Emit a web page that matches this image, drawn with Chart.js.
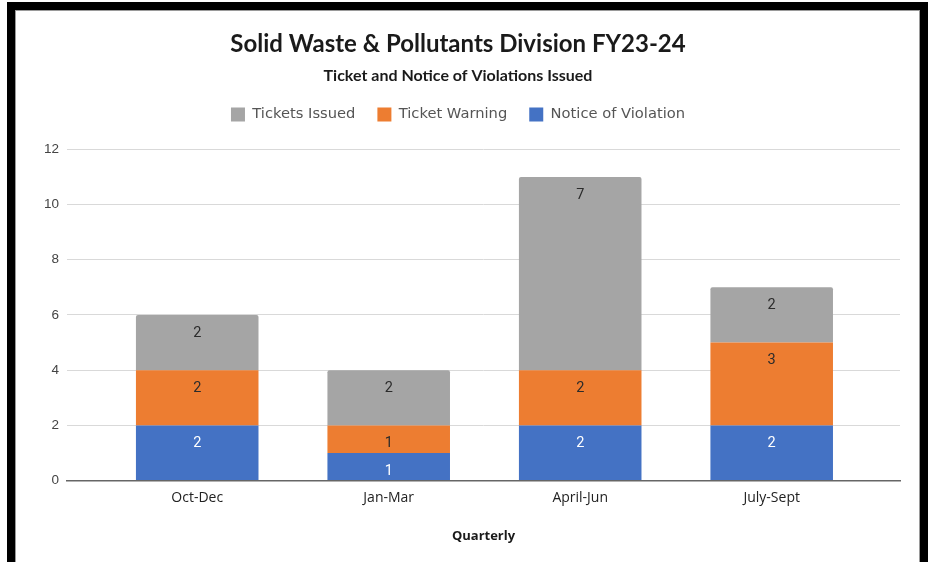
<!DOCTYPE html>
<html>
<head>
<meta charset="utf-8">
<script src="https://cdn.jsdelivr.net/npm/chart.js@4/dist/chart.umd.min.js"></script>
<style>
  html, body { margin: 0; padding: 0; background: #fff; overflow: hidden; width: 931px; height: 562px; }
  #frame { position: absolute; left: 7px; top: 2px; width: 921px; height: 600px; background: #000; }
  #inner { position: absolute; left: 15px; top: 10px; width: 903px; height: 600px; border: 1px solid #9a9a9a; border-bottom: none; background: #fff; }
  canvas { display: block; }
</style>
</head>
<body>
<div id="frame"></div>
<div id="inner"><canvas id="c" width="903" height="552"></canvas></div>
<script>
// ---- Data ----
const quarters = ['Oct-Dec', 'Jan-Mar', 'April-Jun', 'July-Sept'];
const noticeOfViolation = [2, 1, 2, 2];
const ticketWarning = [2, 1, 2, 3];
const ticketsIssued = [2, 2, 7, 2];
const yTickValues = [0, 2, 4, 6, 8, 10, 12];
const chartTitle = 'Solid Waste & Pollutants Division FY23-24';
const chartSubtitle = 'Ticket and Notice of Violations Issued';
const xAxisTitle = 'Quarterly';

const toPoints = arr => arr.map((v, i) => ({ x: i, y: v }));

const labelPlugin = {
  id: 'segLabels',
  afterDatasetsDraw(chart) {
    const ctx = chart.ctx;
    ctx.save();
    ctx.font = '14.5px Roboto, "Liberation Sans", sans-serif';
    ctx.textAlign = 'center';
    ctx.textBaseline = 'middle';
    chart.data.datasets.forEach((ds, di) => {
      const meta = chart.getDatasetMeta(di);
      meta.data.forEach((el, i) => {
        const v = ds.data[i].y;
        ctx.fillStyle = ds.labelColor;
        ctx.fillText(String(v), el.x, el.y + 18);
      });
    });
    ctx.restore();
  }
};

// extra space under the legend, before the plot area
const legendGapPlugin = {
  id: 'legendGap',
  beforeLayout(chart) {
    const lg = chart.legend;
    if (lg && !lg._gapPatched) {
      const orig = lg.fit.bind(lg);
      lg.fit = function () { orig(); this.height += 17.5; };
      lg._gapPatched = true;
    }
  }
};

new Chart(document.getElementById('c'), {
  type: 'bar',
  data: {
    datasets: [
      { label: 'Notice of Violation', data: toPoints(noticeOfViolation), backgroundColor: '#4472c4', labelColor: '#ffffff', borderWidth: 0 },
      { label: 'Ticket Warning', data: toPoints(ticketWarning), backgroundColor: '#ed7d31', labelColor: '#2b2b2b', borderWidth: 0 },
      { label: 'Tickets Issued', data: toPoints(ticketsIssued), backgroundColor: '#a5a5a5', labelColor: '#2b2b2b', borderWidth: 0,
        borderRadius: { topLeft: 2, topRight: 2, bottomLeft: 0, bottomRight: 0 }, borderSkipped: false }
    ]
  },
  options: {
    responsive: false,
    animation: false,
    devicePixelRatio: 1,
    categoryPercentage: 0.8,
    barPercentage: 0.8,
    layout: { padding: { top: 0, right: 19, left: 0, bottom: 0 } },
    plugins: {
      tooltip: { enabled: false },
      title: {
        display: true, text: chartTitle, color: '#1a1a1a',
        font: { family: 'Lato, "Open Sans", sans-serif', size: 24, weight: 'bold' },
        padding: { top: 18.6, bottom: 7.5 }
      },
      subtitle: {
        display: true, text: chartSubtitle, color: '#1a1a1a',
        font: { family: 'Lato, "Open Sans", sans-serif', size: 16, weight: 'bold' },
        padding: { top: 0, bottom: 0 }
      },
      legend: {
        display: true, position: 'top', reverse: true,
        labels: {
          boxWidth: 14, boxHeight: 14, padding: 22, color: '#555555',
          font: { family: '"DejaVu Sans", sans-serif', size: 14.7 }
        }
      }
    },
    scales: {
      x: {
        type: 'linear', stacked: true, min: -0.68, max: 3.67, offset: false,
        afterBuildTicks: s => { s.ticks = quarters.map((q, i) => ({ value: i })); },
        ticks: {
          callback: v => quarters[v] ?? '',
          color: '#222', padding: 9, maxRotation: 0, autoSkip: false,
          font: { family: '"Open Sans", sans-serif', size: 14 }
        },
        grid: { display: false, drawTicks: false },
        border: { display: true, color: '#666', width: 1.5 },
        title: {
          display: true, text: xAxisTitle, color: '#1a1a1a',
          font: { family: '"Open Sans", sans-serif', size: 13, weight: 'bold' },
          padding: { top: 13, bottom: 19 }
        }
      },
      y: {
        stacked: true, min: 0, max: 12,
        afterBuildTicks: s => { s.ticks = yTickValues.map(v => ({ value: v })); },
        afterFit: s => { s.width = 51; },
        ticks: {
          color: '#444', padding: 8,
          font: { family: '"Liberation Sans", Arial, sans-serif', size: 13.5 }
        },
        grid: { color: '#d9d9d9', lineWidth: 1, drawTicks: false },
        border: { display: false }
      }
    }
  },
  plugins: [labelPlugin, legendGapPlugin]
});
</script>
</body>
</html>
